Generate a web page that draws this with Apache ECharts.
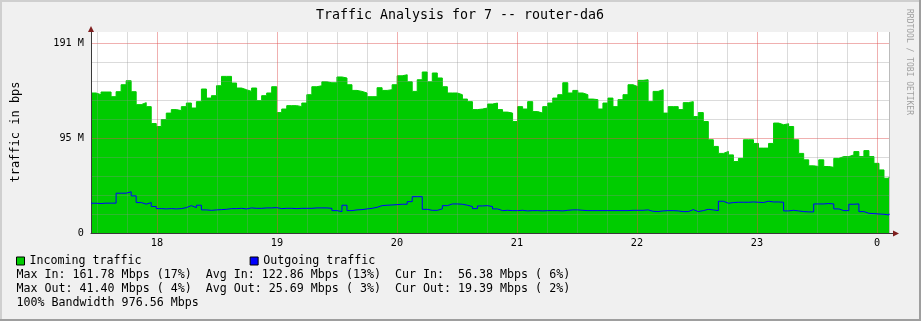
<!DOCTYPE html>
<html><head><meta charset="utf-8">
<script src="https://cdn.jsdelivr.net/npm/echarts@6/dist/echarts.min.js"></script>
<style>html,body{margin:0;padding:0;background:#f0f0f0}#c{width:921px;height:321px}</style>
</head><body><div id="c"></div>
<script>
// time axis in hours after day-17 00:00
const startHour = 10.8;
const endHour = 170.4;
const dayLabels = ['18', '19', '20', '21', '22', '23', '0'];
const yTickLabels = ['0', '95 M', '191 M'];
const seriesNames = ['Incoming traffic', 'Outgoing traffic'];

// values in M (bits/s, base 1024), one per ~hour
const incoming = [
140.7,139,141.7,141.7,137,142,149,153,142,129,
131,127,110,107,114,120.5,124,123,127,130.6,
125.6,132,144.7,135.6,138,148,157.4,157.4,150.7,145.7,
144,142.3,145.7,133,138,140.7,147,121,124.6,128,
128,127,130.6,139,147,148,152,151,151,156.8,
155.8,149,143.3,142.3,140.7,137,137,146,143.3,144,
149,158,159,152,142.3,154,161.8,152,160.8,155.8,
147,140.7,140.7,139,134.6,132,124,124.6,125.6,129.6,
130.6,124,121.5,120.5,112,127,124.6,132,122,120.5,
127,130.6,135.6,139,151,140.7,143.3,140.7,139,134.6,
134,124.6,130.6,135.6,127,134,139,149,147,153.4,
154,132,142.3,144,120.5,127,127,124,131,132,
117,121,112,93.7,87,80,82,78.5,71.8,75,
93.7,93.7,90,85.3,85.3,90,110.5,108.8,109.8,107,
93.7,80,73.5,67.5,66.8,73.5,66.8,66,75,76.8,
76.8,78.5,81.8,76.8,82.8,76.8,70,63.4,55,56.4
];
const outgoing = [
29.9,29.6,30,30,30,40,40,41.4,37.3,30.6,
29,30.6,26.6,24.5,24.2,24.5,24.2,24.5,25.5,27.5,
25.5,27.9,23.2,22.8,23.2,23.5,23.8,24.5,24.5,24.8,
24.2,25.2,24.8,24.8,25.2,25.2,25.5,24.5,24.8,24.8,
24.5,24.8,24.8,24.8,25.2,25.2,25.2,24.8,22.5,21.5,
27.9,22.5,23.2,23.5,24.2,24.8,25.8,27.5,27.9,28.2,
28.5,28.9,28.9,31.5,36.5,36.5,23.8,22.8,22.8,24.2,
27.5,29.2,29.2,28.9,27.9,26.6,24.5,27.2,27.5,26.6,
24.2,22.5,22.8,22.5,22.5,22.8,22.2,22.5,22.5,22.2,
22.5,22.5,22.5,22.2,22.8,23.2,23.2,22.8,22.5,22.5,
22.5,22.5,22.5,22.5,22.5,22.5,22.5,22.8,22.8,22.8,
23.2,21.8,21.5,22.2,22.5,22.5,22.2,21.5,21.5,23.5,
21.5,22.5,23.8,23.2,22.5,31.9,29.9,30.6,30.9,30.9,
30.9,31.2,30.9,30.6,31.9,31.2,31.2,30.9,22.2,22.8,
22.2,21.5,21.2,21.2,29.2,29.2,29.6,29.2,24.2,22.5,
22.5,28.9,29.2,21.5,19.8,19.5,19.1,18.8,18.1,19.4
];
const statLines = [
  'Max In: 161.78 Mbps (17%)  Avg In: 122.86 Mbps (13%)  Cur In:  56.38 Mbps ( 6%)',
  'Max Out: 41.40 Mbps ( 4%)  Avg Out: 25.69 Mbps ( 3%)  Cur Out: 19.39 Mbps ( 2%)',
  '100% Bandwidth 976.56 Mbps'
];
const titleText = 'Traffic Analysis for 7 -- router-da6';
const unitText = 'traffic in bps';
const watermark = 'RRDTOOL / TOBI OETIKER';

const n = incoming.length;
const stepH = (endHour - startHour) / (n - 1);
const inData = incoming.map((v, i) => [startHour + i * stepH, v]);
const outData = outgoing.map((v, i) => [startHour + i * stepH, v]);

const MINOR = 'rgba(143,143,143,0.32)';
const MAJOR = 'rgba(222,79,79,0.45)';
const xInterval = 1.2;
const xTickCount = Math.round((endHour - startHour) / xInterval) + 1;
const xColors = [];
for (let k = 0; k < xTickCount; k++) {
  const h = Math.round((startHour + k * xInterval) * 10) / 10;
  if (k === xTickCount - 1) xColors.push('rgba(143,143,143,0.55)');
  else if (k === 0) xColors.push('rgba(0,0,0,0)');
  else if (h % 24 === 0) xColors.push(MAJOR);
  else if (h % 6 === 0) xColors.push(MINOR);
  else xColors.push('rgba(0,0,0,0)');
}
const yColors = ['rgba(0,0,0,0)', MINOR, MINOR, MINOR, MINOR, MAJOR, MINOR, MINOR, MINOR, MINOR, MAJOR, 'rgba(0,0,0,0)'];

const MONO = '"DejaVu Sans Mono", monospace';
const chart = echarts.init(document.getElementById('c'), null, {renderer: 'canvas'});
chart.setOption({
  animation: false,
  backgroundColor: '#f0f0f0',
  grid: {left: 91, top: 32, width: 798, height: 201, show: true, backgroundColor: '#ffffff', borderWidth: 0},
  xAxis: {
    type: 'value', min: startHour, max: endHour, interval: xInterval, z: 3,
    axisLine: {show: true, lineStyle: {color: '#3a3a3a', width: 1}},
    axisTick: {show: false},
    axisLabel: {
      margin: 5, color: '#000', fontFamily: MONO, fontSize: 10.2, hideOverlap: false,
      formatter: function (v) {
        const h = Math.round(v * 10) / 10;
        if (h % 24 === 0 && h / 24 >= 1) return dayLabels[h / 24 - 1] || '';
        return '';
      }
    },
    splitLine: {show: true, lineStyle: {color: xColors, width: 1}}
  },
  yAxis: {
    type: 'value', min: 0, max: 202, interval: 19.07, z: 3,
    axisLine: {show: true, lineStyle: {color: '#3a3a3a', width: 1}},
    axisTick: {show: false},
    axisLabel: {
      margin: 7, color: '#000', fontFamily: MONO, fontSize: 10.2,
      formatter: function (v, i) {
        if (i === 0) return yTickLabels[0];
        if (i === 5) return yTickLabels[1];
        if (i === 10) return yTickLabels[2];
        return '';
      }
    },
    splitLine: {show: true, lineStyle: {color: yColors, width: 1}}
  },
  legend: {
    left: 16, top: 255, padding: 0, itemGap: 108, itemWidth: 8, itemHeight: 8,
    icon: 'rect', selectedMode: false,
    textStyle: {fontFamily: MONO, fontSize: 11.65, color: '#000'},
    itemStyle: {borderColor: '#000', borderWidth: 1},
    data: seriesNames
  },
  series: [
    {
      name: seriesNames[0], type: 'line', step: 'end', data: inData, symbol: 'none', z: 2,
      lineStyle: {width: 1, color: '#00cc00'}, itemStyle: {color: '#00cc00'},
      areaStyle: {color: '#00cc00', opacity: 1}
    },
    {
      name: seriesNames[1], type: 'line', step: 'end', data: outData, symbol: 'none', z: 4,
      lineStyle: {width: 1, color: '#0000ff'}, itemStyle: {color: '#0000ff'}
    }
  ],
  graphic: [
    {type: 'rect', shape: {x: 0, y: 0, width: 921, height: 2}, style: {fill: '#cfcfcf'}, z: 10},
    {type: 'rect', shape: {x: 0, y: 0, width: 2, height: 321}, style: {fill: '#cfcfcf'}, z: 10},
    {type: 'rect', shape: {x: 0, y: 319, width: 921, height: 2}, style: {fill: '#9e9e9e'}, z: 11},
    {type: 'rect', shape: {x: 919, y: 0, width: 2, height: 321}, style: {fill: '#9e9e9e'}, z: 11},
    {type: 'text', x: 460, y: 16, z: 10, style: {text: titleText, font: '13.3px ' + MONO, fill: '#000', align: 'center', verticalAlign: 'middle', textAlign: 'center', textVerticalAlign: 'middle'}},
    {type: 'text', x: 16, y: 132, rotation: Math.PI / 2, z: 10, style: {text: unitText, font: '12px ' + MONO, fill: '#000', align: 'center', verticalAlign: 'middle', textAlign: 'center', textVerticalAlign: 'middle'}},
    {type: 'text', x: 909, y: 62, rotation: -Math.PI / 2, z: 10, style: {text: watermark, font: '8px ' + MONO, fill: '#a0a0a0', align: 'center', verticalAlign: 'middle', textAlign: 'center', textVerticalAlign: 'middle'}},
    {type: 'text', x: 16.5, y: 275, z: 10, style: {text: statLines[0], font: '11.65px ' + MONO, fill: '#000', align: 'left', verticalAlign: 'middle', textAlign: 'left', textVerticalAlign: 'middle'}},
    {type: 'text', x: 16.5, y: 289, z: 10, style: {text: statLines[1], font: '11.65px ' + MONO, fill: '#000', align: 'left', verticalAlign: 'middle', textAlign: 'left', textVerticalAlign: 'middle'}},
    {type: 'text', x: 16.5, y: 303, z: 10, style: {text: statLines[2], font: '11.65px ' + MONO, fill: '#000', align: 'left', verticalAlign: 'middle', textAlign: 'left', textVerticalAlign: 'middle'}},
    {type: 'polygon', z: 10, shape: {points: [[88, 32], [94, 32], [91, 26]]}, style: {fill: '#7f1f1f'}},
    {type: 'line', z: 10, shape: {x1: 889, y1: 233.5, x2: 893, y2: 233.5}, style: {stroke: '#3a3a3a', lineWidth: 1}},
    {type: 'polygon', z: 10, shape: {points: [[893, 230.5], [893, 236.5], [899, 233.5]]}, style: {fill: '#7f1f1f'}}
  ]
});
</script>
</body></html>
